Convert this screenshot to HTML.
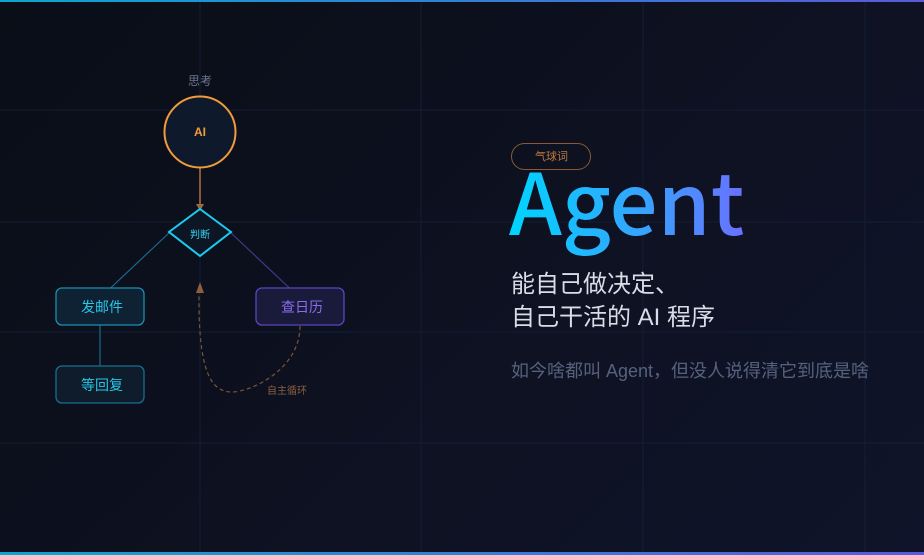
<!DOCTYPE html>
<html><head><meta charset="utf-8"><style>
*{margin:0;padding:0}
body{width:924px;height:555px;overflow:hidden;background:linear-gradient(135deg,#0a0e17 0%,#0d1120 50%,#10142a 100%);position:relative;font-family:"Liberation Sans","Noto Sans CJK SC",sans-serif}
.t{position:absolute;white-space:nowrap}
</style></head><body>
<svg width="924" height="555" style="position:absolute;left:0;top:0">
<defs>
<linearGradient id="bar" x1="0" x2="1"><stop offset="0" stop-color="#0aa6cf"/><stop offset="1" stop-color="#5a5ad8"/></linearGradient>
</defs>
<g stroke="#13233a" stroke-width="1" opacity="0.8">
<line x1="200" y1="0" x2="200" y2="555"/><line x1="421" y1="0" x2="421" y2="555"/><line x1="643" y1="0" x2="643" y2="555"/><line x1="865" y1="0" x2="865" y2="555"/>
<line x1="0" y1="110" x2="924" y2="110"/><line x1="0" y1="222" x2="924" y2="222"/><line x1="0" y1="332" x2="924" y2="332"/><line x1="0" y1="443" x2="924" y2="443"/>
</g>
<rect x="0" y="0" width="924" height="2" fill="url(#bar)"/>
<rect x="0" y="552" width="924" height="3" fill="url(#bar)"/>
<line x1="200" y1="168" x2="200" y2="206" stroke="#b0703a" stroke-width="1.5"/>
<polygon points="196,204 204,204 200,211" fill="#9a6a40"/>
<line x1="170" y1="232" x2="100" y2="298" stroke="#1a6a88" stroke-width="1.2"/>
<line x1="230" y1="232" x2="300" y2="298" stroke="#3d3a88" stroke-width="1.2"/>
<line x1="100" y1="325" x2="100" y2="366" stroke="#1a6a88" stroke-width="1.2"/>
<path d="M300,326 C300,370 250,392 232,392 C210,392 198,370 199,290" fill="none" stroke="#7a5535" stroke-width="1.2" stroke-dasharray="4,3"/>
<polygon points="196,293 204,293 200,282" fill="#8a6040"/>
<circle cx="200" cy="132" r="35.5" fill="#0e1a2c" stroke="#f39a3a" stroke-width="2"/>
<polygon points="200,209 231,232 200,256 169,232" fill="#0d1624" stroke="#1ccbf0" stroke-width="2"/>
<rect x="56" y="288" width="88" height="37" rx="6" fill="#0e2234" stroke="#1a90b0" stroke-width="1.3"/>
<rect x="56" y="366" width="88" height="37" rx="6" fill="#0e1c2c" stroke="#17708f" stroke-width="1.3"/>
<rect x="256" y="288" width="88" height="37" rx="6" fill="#1a1a3a" stroke="#5a45c0" stroke-width="1.3"/>
<rect x="511.5" y="143.5" width="79" height="26" rx="13" fill="none" stroke="#8a5a30" stroke-width="1"/>
</svg>
<div class="t" style="left:188px;top:72px;font-size:12px;color:#6c7690">思考</div>
<div class="t" style="left:194px;top:125px;font-size:12px;color:#f39a3a;font-weight:bold">AI</div>
<div class="t" style="left:190px;top:226px;font-size:10px;color:#3ad4f4">判断</div>
<div class="t" style="left:81px;top:297px;font-size:14px;color:#28c6e8">发邮件</div>
<div class="t" style="left:81px;top:375px;font-size:14px;color:#28c6e8">等回复</div>
<div class="t" style="left:281px;top:297px;font-size:14px;color:#8a6cf0">查日历</div>
<div class="t" style="left:267px;top:382px;font-size:10px;color:#8a6040">自主循环</div>
<div class="t" style="left:535px;top:148px;font-size:11px;color:#c07a40">气球词</div>
<div class="t" style="left:509px;top:139px;font-size:85px;line-height:120px;font-weight:500;font-family:'Noto Sans CJK SC',sans-serif;background:linear-gradient(90deg,#00d4ff,#3aa0ff 60%,#6a70ff);-webkit-background-clip:text;background-clip:text;color:transparent">Agent</div>
<div class="t" style="left:511px;top:268px;font-size:24px;line-height:33px;color:#d8dde8">能自己做决定、<br>自己干活的 AI 程序</div>
<div class="t" style="left:511px;top:357px;font-size:18px;color:#56617e">如今啥都叫 Agent，但没人说得清它到底是啥</div>
</body></html>
